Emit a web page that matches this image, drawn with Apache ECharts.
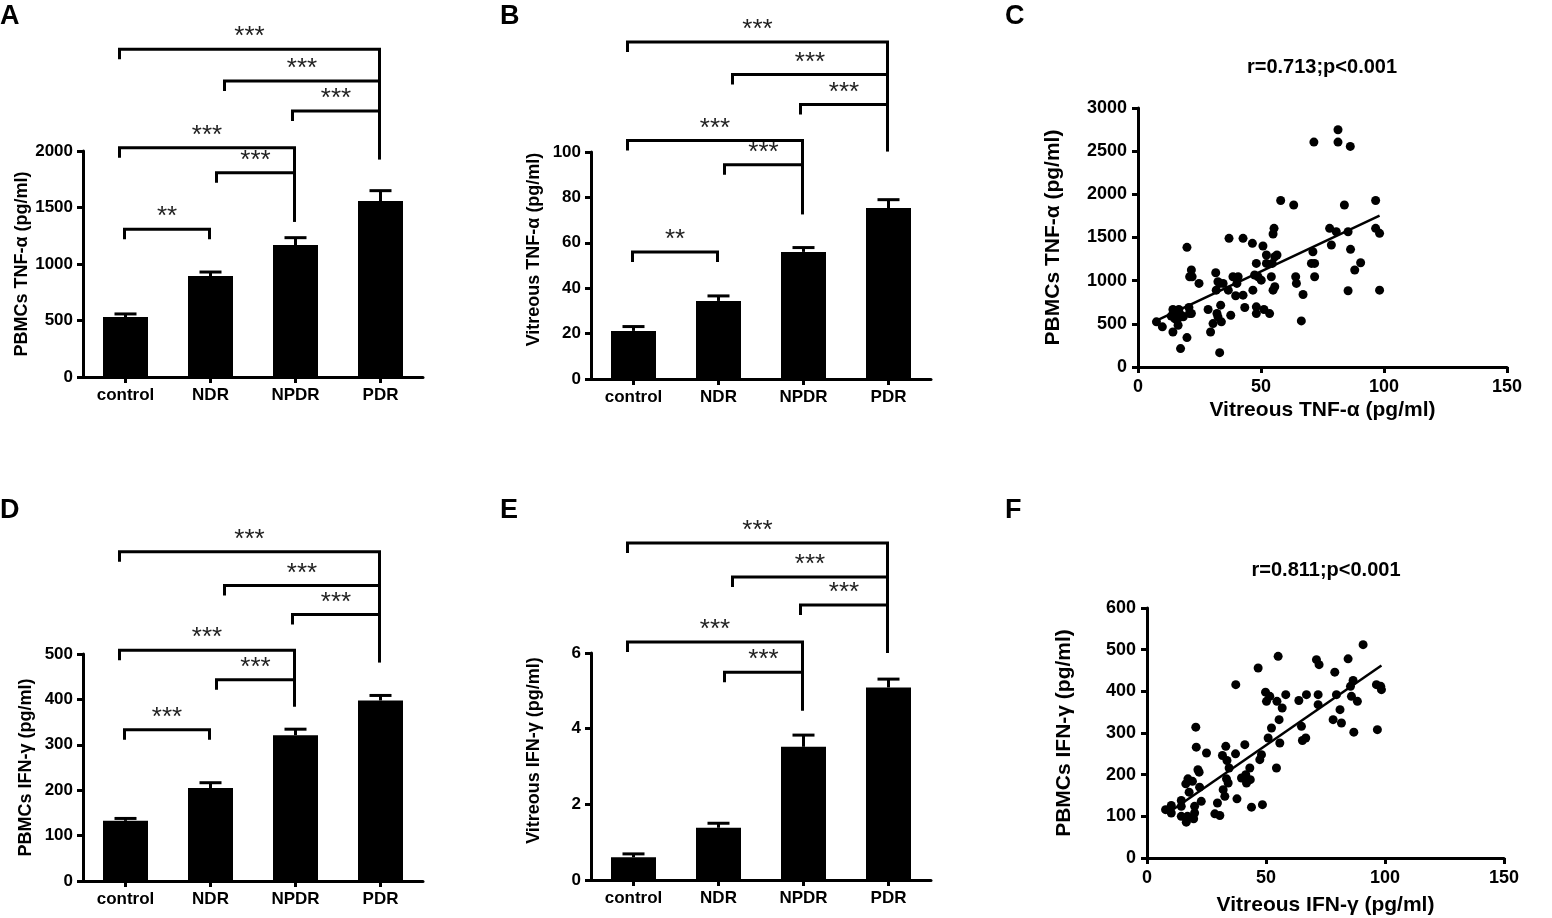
<!DOCTYPE html>
<html>
<head>
<meta charset="utf-8">
<script src="https://cdn.jsdelivr.net/npm/echarts@6/dist/echarts.min.js"></script>
<style>
html,body{margin:0;padding:0;background:#fff;}
#chart{width:1552px;height:918px;}
</style>
</head>
<body>
<div id="chart"></div>
<script>
// ---------------- DATA ----------------
const groups = ['control', 'NDR', 'NPDR', 'PDR'];

const pbmcTnfMean = [531, 894, 1168, 1557];
const pbmcTnfSem  = [27, 35, 65, 92];
const vitTnfMean  = [21.2, 34.4, 56.0, 75.3];
const vitTnfSem   = [1.9, 2.2, 1.9, 3.7];
const pbmcIfnMean = [132.5, 204.8, 321.2, 397.6];
const pbmcIfnSem  = [5.3, 11.7, 13.2, 11.1];
const vitIfnMean  = [0.60, 1.38, 3.52, 5.09];
const vitIfnSem   = [0.09, 0.12, 0.31, 0.22];

// significance brackets: [fromGroup, toGroup, bracketLevel, rightLegEnd (null = short), label]
const sigPbmcTnf = [[0,1,1307,null,'**'],[1,2,1808,1374,'***'],[0,2,2029,1374,'***'],[2,3,2354,1926,'***'],[1,3,2619,1926,'***'],[0,3,2900,1926,'***']];
const sigVitTnf  = [[0,1,55.9,null,'**'],[1,2,94.4,72.6,'***'],[0,2,105.1,72.6,'***'],[2,3,120.9,100.3,'***'],[1,3,134.1,100.3,'***'],[0,3,148.5,100.3,'***']];
const sigPbmcIfn = [[0,1,332.9,null,'***'],[1,2,443.3,384.4,'***'],[0,2,508.1,384.4,'***'],[2,3,586.9,481.6,'***'],[1,3,651.0,481.6,'***'],[0,3,725.4,481.6,'***']];
const sigVitIfn  = [[1,2,5.49,4.48,'***'],[0,2,6.29,4.48,'***'],[2,3,7.27,6.0,'***'],[1,3,8.01,6.0,'***'],[0,3,8.91,6.0,'***']];

// correlation scatter: [vitreous, PBMCs]
const corrTnf = [
  [7.5,523],[9.9,465],[14.2,406],[14.2,666],[15.6,650],[16.6,666],[14.4,620],[15.4,600],[16.9,581],
  [14.9,562],[15.9,542],[16.3,484],[17.6,600],[18.4,581],[13.5,590],[17.3,213],[19.9,341],[19.9,1386],
  [20.7,689],[21.7,620],[20.9,620],[21.7,1123],[21.0,1045],[22.0,1045],[24.8,968],[28.5,666],[29.5,406],
  [30.5,503],[31.6,1092],[31.8,890],[32.5,987],[33.2,968],[32.1,620],[32.5,581],[33.2,166],[33.6,716],
  [33.9,523],[34.6,968],[36.7,890],[37.0,1490],[37.7,600],[38.6,1045],[39.7,825],[40.7,1045],[40.2,968],
  [42.7,1490],[42.7,832],[43.4,689],[46.5,1432],[46.7,890],[47.4,1065],[48.1,1200],[48.1,697],[48.1,619],
  [48.8,1045],[50.1,1006],[50.8,1401],[51.2,666],[52.2,1297],[52.2,1200],[53.5,619],[54.2,1045],[54.6,1200],
  [54.9,1541],[55.3,1606],[55.6,1277],[54.9,890],[55.6,929],[56.5,1297],[58.0,1928],[63.3,1877],[64.1,1045],
  [64.4,968],[66.4,534],[67.1,840],[71.1,1335],[70.5,1200],[71.8,1200],[71.5,2605],[71.8,1045],[77.9,1606],
  [78.6,1413],[80.6,1567],[81.3,2748],[81.3,2605],[83.9,1877],[85.4,1567],[85.4,883],[86.3,2555],[86.4,1363],
  [88.1,1123],[90.5,1208],[96.6,1928],[96.6,1606],[98.2,1548],[98.2,890]
];
const fitTnf = [[6.4,523],[98.2,1754]];

const corrIfn = [
  [7.8,116],[10.2,126],[10.2,108],[14.4,138],[14.4,124],[14.4,100],[16.3,178],[17.2,190],[19.1,184],
  [16.5,86],[17.0,100],[17.7,158],[19.6,94],[20.0,108],[20.0,124],[20.5,314],[20.7,266],[21.4,212],
  [21.9,206],[22.1,170],[22.8,136],[25.0,252],[28.5,106],[29.6,132],[30.6,102],[31.7,246],[33.1,268],
  [33.6,234],[32.0,164],[32.7,148],[33.4,190],[34.5,216],[34.1,180],[37.2,250],[37.3,416],[37.8,142],
  [39.7,192],[41.1,272],[41.8,180],[41.5,200],[43.2,216],[43.4,188],[43.9,122],[46.7,456],[47.4,236],
  [48.1,248],[48.5,128],[49.8,398],[50.2,376],[50.9,288],[52.3,312],[51.6,388],[54.4,216],[55.1,484],
  [54.6,376],[55.5,332],[55.8,276],[56.8,360],[58.3,392],[63.8,378],[64.9,316],[65.3,282],[66.7,288],
  [67.0,392],[71.2,476],[72.3,464],[71.9,392],[71.9,368],[78.2,332],[78.9,446],[79.6,392],[81.1,356],
  [81.7,324],[84.5,478],[85.5,412],[85.9,388],[86.6,426],[86.9,302],[88.4,376],[90.8,512],[96.4,416],
  [96.8,308],[98.2,412],[98.5,404]
];
const fitIfn = [[8.8,108],[98.5,462]];

// ---------------- STYLE ----------------
const FF = 'Liberation Sans, Arial, sans-serif';
const legShift = {'0-1':[-1,-1],'1-2':[6,-1],'0-2':[-6,-1],'2-3':[-3,-1],'1-3':[14,-1],'0-3':[-6,-1]};

const axisLine = {show:true, lineStyle:{color:'#000', width:3}};
const axisTick = {show:true, length:6, lineStyle:{color:'#000', width:3}};
const plain = v => String(v);

const grids = [
  {left:83,  top:151, width:340, height:226},
  {left:591, top:152, width:340, height:227},
  {left:1138,top:108, width:369, height:259},
  {left:83,  top:654, width:340, height:227},
  {left:591, top:653, width:340, height:227},
  {left:1147,top:608, width:357, height:250}
];

function catAxis(gi){
  return {type:'category', gridIndex:gi, data:groups, axisLine, axisTick:Object.assign({alignWithLabel:true}, axisTick),
    axisLabel:{color:'#000', fontWeight:'bold', fontFamily:FF, fontSize:17, margin:10}};
}
function barYAxis(gi, max, interval, name, shiftUp){
  return {type:'value', gridIndex:gi, min:0, max, interval, name, nameLocation:'middle', nameGap:48,
    nameTextStyle:{color:'#000', fontWeight:'bold', fontFamily:FF, fontSize:18, padding: shiftUp ? [0,0,0,shiftUp*2] : 0},
    axisLine, axisTick, splitLine:{show:false},
    axisLabel:{color:'#000', fontWeight:'bold', fontFamily:FF, fontSize:17, margin:10, formatter:plain}};
}
function valAxis(gi, max, interval, name, gap){
  return {type:'value', gridIndex:gi, min:0, max, interval, name, nameLocation:'middle', nameGap:gap,
    nameTextStyle:{color:'#000', fontWeight:'bold', fontFamily:FF, fontSize:21},
    axisLine, axisTick, splitLine:{show:false},
    axisLabel:{color:'#000', fontWeight:'bold', fontFamily:FF, fontSize:18, margin:11, formatter:plain}};
}

function barSeries(gi, mean){
  return {type:'bar', xAxisIndex:gi, yAxisIndex:gi, data:mean, barWidth:45, itemStyle:{color:'#000'}, silent:true};
}
function errSeries(gi, mean, sem){
  return {type:'custom', xAxisIndex:gi, yAxisIndex:gi, z:5, silent:true,
    data: mean.map((m,i)=>[i, m, sem[i]]),
    encode:{x:0, y:1},
    renderItem(params, api){
      const x = api.value(0), m = api.value(1), e = api.value(2);
      const p0 = api.coord([x, m]), p1 = api.coord([x, m+e]);
      return {type:'group', children:[
        {type:'line', shape:{x1:p0[0], y1:p0[1], x2:p1[0], y2:p1[1]}, style:{stroke:'#000', lineWidth:3}},
        {type:'line', shape:{x1:p1[0]-11, y1:p1[1], x2:p1[0]+11, y2:p1[1]}, style:{stroke:'#000', lineWidth:3}}
      ]};
    }};
}
function sigSeries(gi, sig){
  return {type:'custom', xAxisIndex:gi, yAxisIndex:gi, z:6, silent:true, clip:false,
    data: sig.map(s=>[s[0], s[1], s[2], s[3]==null ? -1 : s[3]]),
    encode:{x:[0,1], y:2},
    renderItem(params, api){
      const s = sig[params.dataIndex];
      const f = api.value(0), t = api.value(1), lv = api.value(2), end = api.value(3);
      const sh = legShift[f+'-'+t] || [0,0];
      const pl = api.coord([f, lv]), pr = api.coord([t, lv]);
      const xl = pl[0] + sh[0], xr = pr[0] + sh[1], y = pl[1];
      const yr = end < 0 ? y + 10 : api.coord([t, end])[1];
      return {type:'group', children:[
        {type:'polyline', shape:{points:[[xl, y+10],[xl, y],[xr, y],[xr, yr]]},
          style:{stroke:'#000', lineWidth:3, fill:null, lineJoin:'miter', lineCap:'butt'}},
        {type:'text', style:{text:s[4], x:(xl+xr)/2, y:y-12, align:'center', verticalAlign:'middle',
          font:'26px ' + FF, fill:'#222'}}
      ]};
    }};
}
function scatterSeries(gi, pts){
  return {type:'scatter', xAxisIndex:gi, yAxisIndex:gi, data:pts, symbolSize:9, itemStyle:{color:'#000', opacity:1}, silent:true};
}
function fitSeries(gi, pts){
  return {type:'line', xAxisIndex:gi, yAxisIndex:gi, data:pts, symbol:'none', lineStyle:{color:'#000', width:2.5}, silent:true};
}

function txt(text, x, y, size, align){
  return {type:'text', x, y, style:{text, align: align||'left', verticalAlign:'top', font:'bold '+size+'px '+FF, fill:'#000'}};
}

const option = {
  animation:false,
  backgroundColor:'#fff',
  grid: grids,
  xAxis: [
    catAxis(0), catAxis(1),
    valAxis(2, 150, 50, 'Vitreous TNF-α (pg/ml)', 33),
    catAxis(3), catAxis(4),
    valAxis(5, 150, 50, 'Vitreous IFN-γ (pg/ml)', 37)
  ],
  yAxis: [
    barYAxis(0, 2000, 500, 'PBMCs TNF-α (pg/ml)'),
    barYAxis(1, 100, 20, 'Vitreous TNF-α (pg/ml)', 16),
    valAxis(2, 3000, 500, 'PBMCs TNF-α (pg/ml)', 74),
    barYAxis(3, 500, 100, 'PBMCs IFN-γ (pg/ml)'),
    barYAxis(4, 6, 2, 'Vitreous IFN-γ (pg/ml)', 16),
    valAxis(5, 600, 100, 'PBMCs IFN-γ (pg/ml)', 72)
  ],
  series: [
    barSeries(0, pbmcTnfMean), errSeries(0, pbmcTnfMean, pbmcTnfSem), sigSeries(0, sigPbmcTnf),
    barSeries(1, vitTnfMean),  errSeries(1, vitTnfMean, vitTnfSem),   sigSeries(1, sigVitTnf),
    scatterSeries(2, corrTnf), fitSeries(2, fitTnf),
    barSeries(3, pbmcIfnMean), errSeries(3, pbmcIfnMean, pbmcIfnSem), sigSeries(3, sigPbmcIfn),
    barSeries(4, vitIfnMean),  errSeries(4, vitIfnMean, vitIfnSem),   sigSeries(4, sigVitIfn),
    scatterSeries(5, corrIfn), fitSeries(5, fitIfn)
  ],
  graphic: [
    txt('A', 0, 3, 27), txt('B', 500, 3, 27), txt('C', 1005, 3, 27),
    txt('D', 0, 497, 27), txt('E', 500, 497, 27), txt('F', 1005, 497, 27),
    txt('r=0.713;p<0.001', 1322, 57, 20, 'center'),
    txt('r=0.811;p<0.001', 1326, 560, 20, 'center')
  ]
};

const chart = echarts.init(document.getElementById('chart'), null, {renderer:'canvas'});
chart.setOption(option);
</script>
</body>
</html>
